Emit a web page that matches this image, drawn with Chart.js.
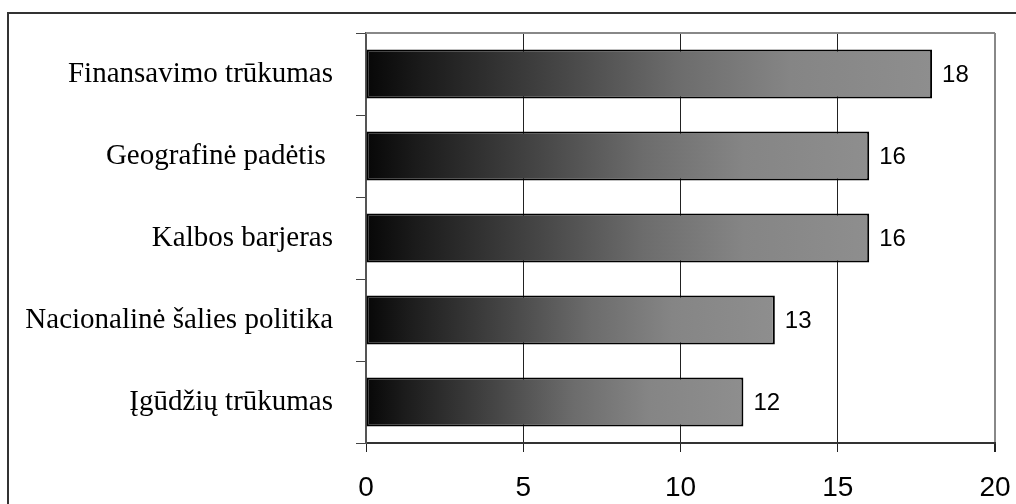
<!DOCTYPE html>
<html>
<head>
<meta charset="utf-8">
<script src="https://cdn.jsdelivr.net/npm/chart.js@4/dist/chart.umd.min.js"></script>
<style>
  html, body { margin: 0; padding: 0; background: #fff; }
  #wrap { width: 1016px; height: 504px; position: relative; }
</style>
</head>
<body>
<div id="wrap"><canvas id="c" width="1016" height="504"></canvas></div>
<script>
// Obstacles and the number of answers naming each
const categories = [
  'Finansavimo trūkumas',
  'Geografinė padėtis ',
  'Kalbos barjeras',
  'Nacionalinė šalies politika',
  'Įgūdžių trūkumas'
];
const counts = [18, 16, 16, 13, 12];
const xTicks = [0, 5, 10, 15, 20];

// Horizontal shading of each bar, dark at the base, light at the tip
function barGradient(context) {
  const chart = context.chart;
  const xs = chart.scales.x;
  if (!chart.chartArea || !xs) return '#555';
  const v = context.raw;
  const x0 = xs.getPixelForValue(0);
  const x1 = xs.getPixelForValue(v);
  const g = chart.ctx.createLinearGradient(x0, 0, x1, 0);
  g.addColorStop(0, '#070707');
  g.addColorStop(0.1, '#1b1b1b');
  g.addColorStop(0.35, '#474747');
  g.addColorStop(0.55, '#6c6c6c');
  g.addColorStop(0.75, '#858585');
  g.addColorStop(1, '#8e8e8e');
  return g;
}

// Outer frame, plot top edge and value labels
const decorations = {
  id: 'decorations',
  beforeDraw(chart) {
    const ctx = chart.ctx;
    ctx.save();
    ctx.fillStyle = '#fff';
    ctx.fillRect(0, 0, chart.width, chart.height);
    ctx.strokeStyle = '#333';
    ctx.lineWidth = 2;
    ctx.beginPath();
    ctx.moveTo(8, chart.height + 5);
    ctx.lineTo(8, 13);
    ctx.lineTo(chart.width + 5, 13);
    ctx.stroke();
    ctx.restore();
  },
  afterDatasetsDraw(chart) {
    const ctx = chart.ctx;
    const a = chart.chartArea;
    ctx.save();
    ctx.strokeStyle = '#888';
    ctx.lineWidth = 2;
    ctx.beginPath();
    ctx.moveTo(a.left, a.top);
    ctx.lineTo(a.right, a.top);
    ctx.stroke();

    const meta = chart.getDatasetMeta(0);
    ctx.fillStyle = '#000';
    ctx.font = '24px "Liberation Sans", Arial, sans-serif';
    ctx.textAlign = 'left';
    ctx.textBaseline = 'middle';
    meta.data.forEach((bar, i) => {
      ctx.fillText(String(counts[i]), bar.x + 10, bar.y + 1);
    });
    ctx.restore();
  }
};

new Chart(document.getElementById('c'), {
  type: 'bar',
  data: {
    labels: categories,
    datasets: [{
      data: counts,
      backgroundColor: barGradient,
      borderColor: '#000',
      borderWidth: 2,
      borderSkipped: false,
      barPercentage: 0.6,
      categoryPercentage: 1.0
    }]
  },
  options: {
    indexAxis: 'y',
    responsive: false,
    animation: false,
    devicePixelRatio: 1,
    layout: { padding: { top: 33, right: 21, left: 0, bottom: 0 } },
    plugins: {
      legend: { display: false },
      tooltip: { enabled: false }
    },
    scales: {
      x: {
        min: 0,
        max: 20,
        afterBuildTicks(scale) {
          scale.ticks = xTicks.map(v => ({ value: v }));
        },
        afterFit(scale) {
          scale.height = 61;
          scale.paddingLeft = 0;
          scale.paddingRight = 0;
        },
        grid: {
          color: ctx => (ctx.tick && ctx.tick.value === 20) ? '#888' : '#222',
          lineWidth: ctx => (ctx.tick && ctx.tick.value === 20) ? 2 : 1,
          drawTicks: true,
          tickLength: 9,
          tickColor: '#222'
        },
        border: { display: true, color: '#333', width: 2 },
        ticks: {
          color: '#000',
          padding: 19,
          font: { family: '"Liberation Sans", Arial, sans-serif', size: 28 },
          maxRotation: 0
        }
      },
      y: {
        afterFit(scale) {
          scale.width = 366;
          scale.paddingTop = 0;
          scale.paddingBottom = 0;
        },
        grid: {
          offset: true,
          drawOnChartArea: false,
          drawTicks: true,
          tickLength: 10,
          color: '#444'
        },
        border: { display: true, color: '#555', width: 2 },
        ticks: {
          color: '#000',
          padding: 23,
          font: { family: '"Liberation Serif", "Times New Roman", serif', size: 29 }
        }
      }
    }
  },
  plugins: [decorations]
});
</script>
</body>
</html>
